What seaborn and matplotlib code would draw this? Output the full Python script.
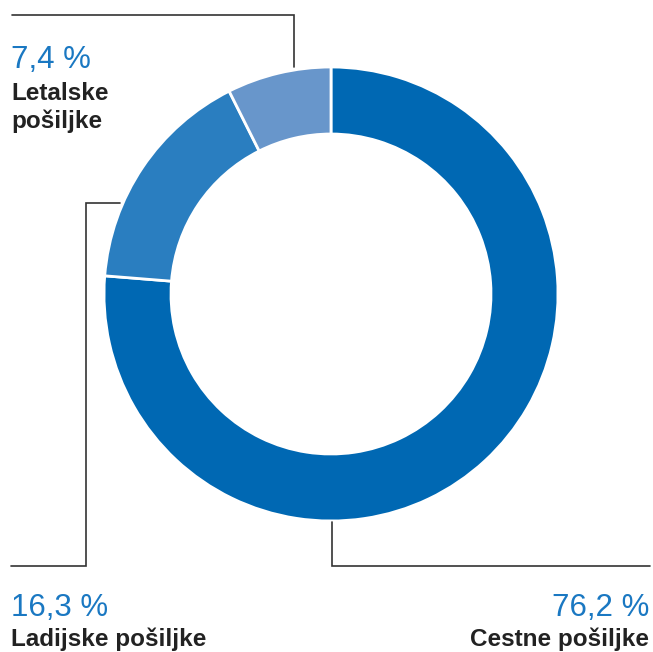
import matplotlib
matplotlib.use("Agg")
import matplotlib.pyplot as plt
import seaborn as sns

# Shipment shares by transport mode (percent)
categories = ["Cestne pošiljke", "Ladijske pošiljke", "Letalske pošiljke"]
shares = [76.2, 16.3, 7.4]
share_labels = ["76,2 %", "16,3 %", "7,4 %"]
colors = ["#0068b3", "#2a7ec0", "#6896cb"]

sns.set_theme(style="white")
plt.rcParams["font.family"] = ["Liberation Sans", "DejaVu Sans"]

W, H = 653, 652
fig = plt.figure(figsize=(W / 100, H / 100), dpi=100)
ax = fig.add_axes([0, 0, 1, 1])
ax.set_xlim(0, W)
ax.set_ylim(0, H)
ax.set_aspect("equal")
ax.axis("off")


def Y(y_top):
    """Convert a top-down pixel row to the axis' bottom-up coordinate."""
    return H - y_top


ax.pie(
    shares,
    colors=colors,
    startangle=90,
    counterclock=False,
    center=(331, Y(294)),
    radius=227,
    wedgeprops=dict(width=67, edgecolor="white", linewidth=2),
    frame=True,
)
ax.set_xlim(0, W)
ax.set_ylim(0, H)
ax.axis("off")

line_kw = dict(color="#333333", lw=1.2, solid_joinstyle="miter")
# leader lines
ax.plot([12, 294, 294], [Y(15), Y(15), Y(67)], **line_kw)
ax.plot([120, 86, 86, 11], [Y(203), Y(203), Y(566), Y(566)], **line_kw)
ax.plot([332, 332, 650], [Y(522), Y(566), Y(566)], **line_kw)

pct_kw = dict(color="#1a78c2", fontsize=22.5, fontweight="light", va="baseline")
name_kw = dict(color="#222222", fontsize=17.5, fontweight="bold", va="baseline")

# Letalske (top left)
ax.text(11, Y(68), share_labels[2], ha="left", **pct_kw)
ax.text(11, Y(100), "Letalske", ha="left", **name_kw)
ax.text(11, Y(128), "pošiljke", ha="left", **name_kw)

# Ladijske (bottom left)
ax.text(11, Y(616), share_labels[1], ha="left", **pct_kw)
ax.text(11, Y(646), categories[1], ha="left", **name_kw)

# Cestne (bottom right)
ax.text(649, Y(616), share_labels[0], ha="right", **pct_kw)
ax.text(649, Y(646), categories[0], ha="right", **name_kw)

fig.savefig("out.png", dpi=100, facecolor="white")
